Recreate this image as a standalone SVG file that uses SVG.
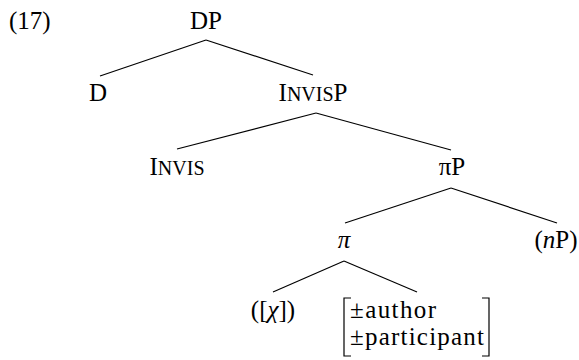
<svg xmlns="http://www.w3.org/2000/svg" width="579" height="360" viewBox="0 0 579 360">
<rect width="579" height="360" fill="#fff"/>
<text x="9" y="29" font-family="Liberation Serif" font-size="25">(17)</text>
<g id="connectors" stroke="#000" stroke-width="1.2" fill="none">
<line x1="206" y1="40" x2="100" y2="76"/>
<line x1="206" y1="40" x2="313" y2="75"/>
<line x1="316" y1="113" x2="177" y2="149"/>
<line x1="316" y1="113" x2="451" y2="150"/>
<line x1="451" y1="188" x2="345" y2="223"/>
<line x1="451" y1="188" x2="557" y2="223"/>
<line x1="344" y1="261" x2="273" y2="292"/>
<line x1="344" y1="261" x2="417" y2="292"/>
</g>
<g id="n-DP"><text x="206" y="29" font-family="Liberation Serif" font-size="25" text-anchor="middle">DP</text></g>
<g id="n-D"><text x="98" y="101" font-family="Liberation Serif" font-size="25" text-anchor="middle">D</text></g>
<g id="n-InvisP"><text x="313" y="101" font-family="Liberation Serif" font-size="25" text-anchor="middle">I<tspan font-size="20">NVIS</tspan>P</text></g>
<g id="n-Invis"><text x="177" y="175" font-family="Liberation Serif" font-size="25" text-anchor="middle">I<tspan font-size="20">NVIS</tspan></text></g>
<g id="n-piP"><text x="452" y="175" font-family="Liberation Serif" font-size="25" text-anchor="middle">πP</text></g>
<g id="n-pi"><text x="344" y="248" font-family="Liberation Serif" font-size="25" font-style="italic" text-anchor="middle">π</text></g>
<g id="n-nP"><text x="556" y="248" font-family="Liberation Serif" font-size="25" text-anchor="middle">(<tspan font-style="italic">n</tspan>P)</text></g>
<g id="n-chi"><text x="273" y="318" font-family="Liberation Serif" font-size="25" text-anchor="middle">([<tspan font-style="italic">χ</tspan>])</text></g>
<g id="n-features">
<path d="M351,298 H344 V356 H351 M482,298 H489 V356 H482" stroke="#000" stroke-width="1.2" fill="none"/>
<text x="350" y="318" font-family="Liberation Serif" font-size="25" textLength="86" lengthAdjust="spacing">±author</text>
<text x="350" y="345" font-family="Liberation Serif" font-size="25" textLength="134" lengthAdjust="spacing">±participant</text>
</g>
</svg>
